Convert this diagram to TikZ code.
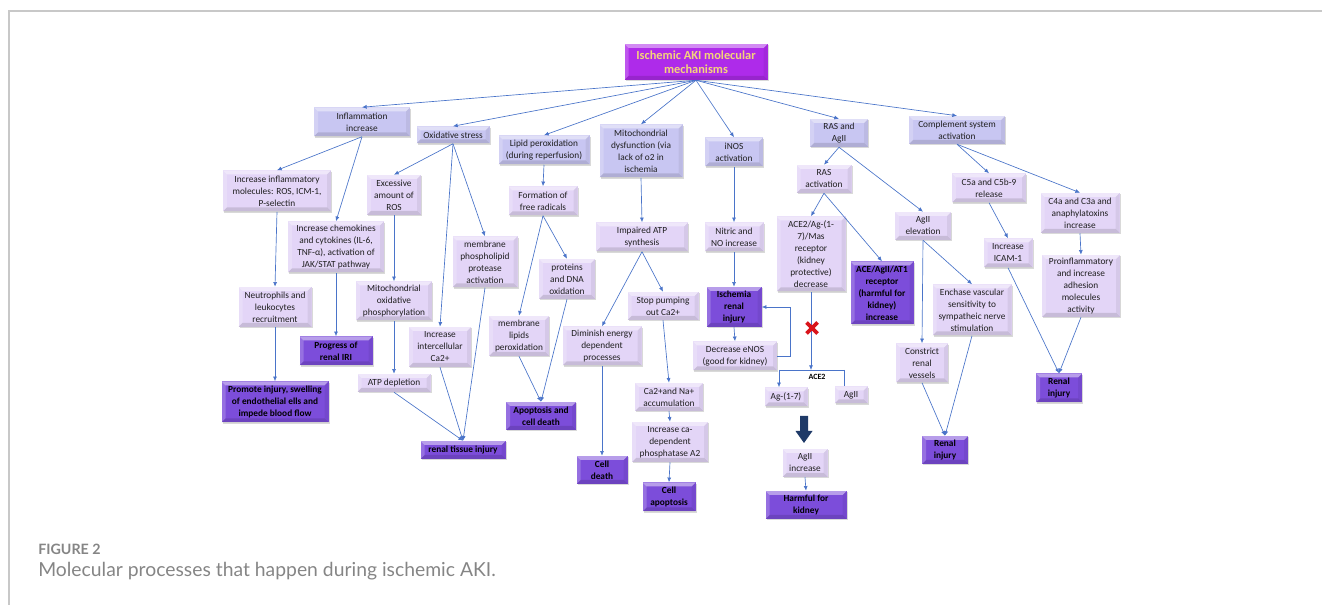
\documentclass[tikz,border=0pt]{standalone}
\usepackage{fontspec}
\setmainfont{Carlito}
\newfontfamily\capfont{Lato}
\usetikzlibrary{arrows.meta,shadows}

\definecolor{toplav}{HTML}{C8C6F2}
\definecolor{midlav}{HTML}{E3D5F7}
\definecolor{darkpur}{HTML}{7C4DDA}
\definecolor{titlepur}{HTML}{AE2BEA}
\definecolor{titletxt}{HTML}{F4D47A}
\definecolor{arrowc}{HTML}{4A74C9}
\definecolor{framec}{HTML}{C8C8C8}
\definecolor{capc}{HTML}{858585}
\definecolor{navyarr}{HTML}{1F3A68}
\definecolor{xred}{HTML}{D9141B}

\tikzset{
  bevel/.style={path picture={
    \path (path picture bounding box.north west) coordinate (q1)
          (path picture bounding box.north east) coordinate (q2)
          (path picture bounding box.south east) coordinate (q3)
          (path picture bounding box.south west) coordinate (q4);
    \path ([shift={(3pt,-3pt)}]q1) coordinate (r1)
          ([shift={(-3pt,-3pt)}]q2) coordinate (r2)
          ([shift={(-3pt,3pt)}]q3) coordinate (r3)
          ([shift={(3pt,3pt)}]q4) coordinate (r4);
    \fill[white,opacity=.45] (q1)--(q2)--(r2)--(r1)--cycle;
    \fill[white,opacity=.2] (q1)--(r1)--(r4)--(q4)--cycle;
    \fill[black,opacity=.12] (q4)--(r4)--(r3)--(q3)--cycle;
    \fill[black,opacity=.06] (q2)--(q3)--(r3)--(r2)--cycle;
  }},
  base/.style={rectangle, align=center, inner sep=1pt,
    font=\fontsize{7}{9}\selectfont, text=black!88,
    drop shadow={shadow xshift=.8pt,shadow yshift=-.8pt,opacity=.3}, bevel},
  tp/.style={base, fill=toplav},
  md/.style={base, fill=midlav},
  dk/.style={base, fill=darkpur, font=\bfseries\fontsize{7}{9}\selectfont, text=black},
  ttl/.style={base, fill=titlepur, text=titletxt, font=\bfseries\fontsize{9.3}{10.8}\selectfont},
  sz/.style 2 args={minimum width=#1*0.75pt, minimum height=#2*0.75pt},
  arr/.style={draw=arrowc, line width=.5pt, -{Latex[length=3.5pt,width=3pt]}},
  ln/.style={draw=arrowc, line width=.5pt}
}

\begin{document}
\begin{tikzpicture}[x=0.75pt,y=-0.75pt]
\useasboundingbox (0,0) rectangle (1322,605);
\draw[framec, line width=0.8pt] (9,605) -- (9,11) -- (1322,11);

% title
\node[ttl,sz={143}{36}] (title) at (696,62) {Ischemic AKI molecular\\mechanisms};

% top level
\node[tp,sz={96}{29}] (infl) at (362,122) {Inflammation\\increase};
\node[tp,sz={73}{17}] (oxid) at (453,135) {Oxidative stress};
\node[tp,sz={91}{29}] (lipid) at (544,150) {Lipid peroxidation\\(during reperfusion)};
\node[tp,sz={83}{53}] (mitod) at (641,151) {Mitochondrial\\dysfunction (via\\lack of o2 in\\ischemia};
\node[tp,sz={58}{29}] (inos) at (734,152) {iNOS\\activation};
\node[tp,sz={58}{28}] (rasag) at (839,133) {RAS and\\AgII};
\node[tp,sz={96}{28}] (compl) at (957,130) {Complement system\\activation};

% inflammation / oxidative branch
\node[md,sz={108}{41}] (inflmol) at (277,191) {Increase inflammatory\\molecules: ROS, ICM-1,\\P-selectin};
\node[md,sz={96}{51}] (chemo) at (336,247) {Increase chemokines\\and cytokines (IL-6,\\TNF-α), activation of\\JAK/STAT pathway};
\node[md,sz={54}{40}] (exros) at (394,195) {Excessive\\amount of\\ROS};
\node[md,sz={65}{51}] (memphos) at (485,262) {membrane\\phospholipid\\protease\\activation};
\node[md,sz={73}{40}] (neutro) at (275,307) {Neutrophils and\\leukocytes\\recruitment};
\node[md,sz={76}{39}] (mitoox) at (394,301) {Mitochondrial\\oxidative\\phosphorylation};
\node[dk,sz={73}{29}] (progress) at (336,351) {Progress of\\renal IRI};
\node[md,sz={62}{40}] (intca) at (440,347) {Increase\\intercellular\\Ca2+};
\node[md,sz={73}{18}] (atpdep) at (394,383) {ATP depletion};
\node[dk,sz={107}{41}] (promote) at (275,402) {Promote injury, swelling\\of endothelial ells and\\impede blood flow};
\node[dk,sz={85}{18}] (rti) at (463,450) {renal tissue injury};

% lipid branch
\node[md,sz={69}{29}] (formation) at (543,201) {Formation of\\free radicals};
\node[md,sz={60}{40}] (memlip) at (519,336) {membrane\\lipids\\peroxidation};
\node[md,sz={56}{40}] (prot) at (567,279) {proteins\\and DNA\\oxidation};
\node[dk,sz={70}{28}] (apop) at (541,416) {Apoptosis and\\cell death};

% mitochondrial branch
\node[md,sz={92}{29}] (impaired) at (642,237) {Impaired ATP\\synthesis};
\node[md,sz={79}{39}] (dimin) at (602,346) {Diminish energy\\dependent\\processes};
\node[md,sz={71}{28}] (stoppump) at (663,306) {Stop pumping\\out Ca2+};
\node[md,sz={68}{28}] (caacc) at (669,397) {Ca2+and Na+\\accumulation};
\node[md,sz={76}{40}] (incca) at (670,442) {Increase ca-\\dependent\\phosphatase A2};
\node[dk,sz={51}{28}] (celldeath) at (602,470) {Cell\\death};
\node[dk,sz={53}{29}] (cellapop) at (669,497) {Cell\\apoptosis};

% iNOS branch
\node[md,sz={59}{29}] (nitric) at (734,237) {Nitric and\\NO increase};
\node[dk,sz={55}{40}] (isch) at (734,307) {Ischemia\\renal\\injury};
\node[md,sz={84}{29}] (enos) at (735,356) {Decrease eNOS\\(good for kidney)};

% RAS branch
\node[md,sz={55}{28}] (rasact) at (824,179) {RAS\\activation};
\node[md,sz={69}{75}] (ace2mas) at (811,254) {ACE2/Ag-(1-\\7)/Mas\\receptor\\(kidney\\protective)\\decrease};
\node[dk,sz={63}{63}] (ace1) at (882,293) {ACE/AgII/AT1\\receptor\\(harmful for\\kidney)\\increase};
\node[md,sz={43}{19}] (ag17) at (786,397) {Ag-(1-7)};
\node[md,sz={33}{17}] (agii2) at (851,395) {AgII};
\node[md,sz={45}{28}] (agiiinc) at (805,463) {AgII\\increase};
\node[dk,sz={81}{28}] (harm) at (806,505) {Harmful for\\kidney};
\node[md,sz={56}{28}] (agelev) at (923,226) {AgII\\elevation};
\node[md,sz={79}{51}] (enchase) at (972,310) {Enchase vascular\\sensitivity to\\sympatheic nerve\\stimulation};
\node[md,sz={52}{39}] (constrict) at (922,363) {Constrict\\renal\\vessels};
\node[dk,sz={46}{28}] (renalmid) at (945,450) {Renal\\injury};

% complement branch
\node[md,sz={74}{29}] (c5a) at (989,188) {C5a and C5b-9\\release};
\node[md,sz={79}{40}] (c4a) at (1080,213) {C4a and C3a and\\anaphylatoxins\\increase};
\node[md,sz={49}{29}] (icam) at (1008,253) {Increase\\ICAM-1};
\node[md,sz={78}{62}] (proinf) at (1081,286) {Proinflammatory\\and increase\\adhesion\\molecules\\activity};
\node[dk,sz={46}{29}] (renalr) at (1059,388) {Renal\\injury};

% connectors from title
\foreach \t in {infl,oxid,lipid,mitod,inos,rasag,compl}
  \draw[arr] (title.south) -- (\t.north);

\draw[arr] (infl.south) -- (inflmol.north);
\draw[arr] (infl.south) -- (chemo.north);
\draw[arr] (oxid.south) -- (exros.north);
\draw[arr] (oxid.south) -- (memphos.north);
\draw[arr] (oxid.south) -- (intca.north);
\draw[arr] (inflmol.south) -- (neutro.north);
\draw[arr] (neutro.south) -- (promote.north);
\draw[arr] (chemo.south) -- (progress.north);
\draw[arr] (exros.south) -- (mitoox.north);
\draw[arr] (mitoox.south) -- (atpdep.north);
\draw[arr] (atpdep.south) -- (rti.north);
\draw[arr] (intca.south) -- (rti.north);
\draw[arr] (memphos.south) -- (rti.north);

\draw[arr] (lipid.south) -- (formation.north);
\draw[arr] (formation.south) -- (memlip.north);
\draw[arr] (formation.south) -- (prot.north);
\draw[arr] (memlip.south) -- (apop.north);
\draw[arr] (prot.south) -- (apop.north);

\draw[arr] (mitod.south) -- (impaired.north);
\draw[arr] (impaired.south) -- (dimin.north);
\draw[arr] (impaired.south) -- (stoppump.north);
\draw[arr] (dimin.south) -- (celldeath.north);
\draw[arr] (stoppump.south) -- (caacc.north);
\draw[arr] (caacc.south) -- (incca.north);
\draw[arr] (incca.south) -- (cellapop.north);

\draw[arr] (inos.south) -- (nitric.north);
\draw[arr] (nitric.south) -- (isch.north);
\draw[arr] (isch.south) -- (enos.north);
\draw[arr] (enos.east) -- ++(13,0) |- (isch.east);

\draw[arr] (rasag.south) -- (rasact.north);
\draw[arr] (rasag.south) -- (agelev.north);
\draw[arr] (rasact.south) -- (ace2mas.north);
\draw[arr] (rasact.south) -- (ace1.north);
\coordinate (bar) at (811,370);
\coordinate (barl) at (779,370);
\coordinate (barr) at (844,370);
\draw[arr] (ace2mas.south) -- (bar);
\draw[ln] (barl) -- (barr);
\draw[arr] (barl) -- (barl |- ag17.north);
\draw[ln] (barr) -- (barr |- agii2.north);
\node[font=\bfseries\fontsize{6}{7}\selectfont, text=black] (ace2lbl) at (817,377) {ACE2};
\draw[xred, line width=2.8pt] (806.5,322.5) -- (817.5,333.5) (806.5,333.5) -- (817.5,322.5);
\fill[navyarr] (800,416) -- (808,416) -- (808,431) -- (812.5,431) -- (804,443) -- (795.5,431) -- (800,431) -- cycle;
\draw[arr] (agiiinc.south) -- (harm.north);

\draw[arr] (agelev.south) -- (constrict.north);
\draw[arr] (agelev.south) -- (enchase.north);
\draw[arr] (constrict.south) -- (renalmid.north);
\draw[arr] (enchase.south) -- (renalmid.north);

\draw[arr] (compl.south) -- (c5a.north);
\draw[arr] (compl.south) -- (c4a.north);
\draw[arr] (c5a.south) -- (icam.north);
\draw[arr] (c4a.south) -- (proinf.north);
\draw[arr] (icam.south) -- (renalr.north);
\draw[arr] (proinf.south) -- (renalr.north);

% caption
\node[anchor=west, inner sep=0pt, font=\capfont\bfseries\fontsize{10.7}{12}\selectfont, text=capc] (figlbl) at (38,549) {FIGURE 2};
\node[anchor=west, inner sep=0pt, font=\capfont\fontsize{14.5}{16}\selectfont, text=capc] (figcap) at (38,571) {Molecular processes that happen during ischemic AKI.};
\end{tikzpicture}
\end{document}
